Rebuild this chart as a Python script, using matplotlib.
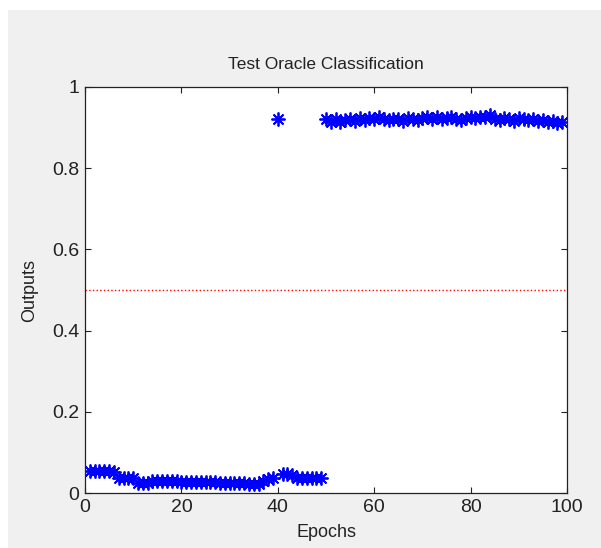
import matplotlib
matplotlib.use("Agg")
import matplotlib.pyplot as plt
from matplotlib.patches import Rectangle

plt.rcParams['font.family'] = ['Liberation Sans', 'DejaVu Sans']

# classifier outputs per epoch
epochs_low = list(range(1, 40)) + list(range(41, 50))
outputs_low = [
    0.053, 0.053, 0.053, 0.053, 0.053, 0.052,
    0.038, 0.038, 0.037, 0.037,
    0.025, 0.024, 0.025,
    0.029, 0.029, 0.029, 0.029, 0.029, 0.029,
    0.028, 0.028, 0.028, 0.028, 0.028, 0.028, 0.028, 0.028,
    0.025, 0.025, 0.024, 0.024, 0.025, 0.025,
    0.022, 0.022, 0.023,
    0.030, 0.034, 0.036,
    0.046, 0.047, 0.045,
    0.038, 0.037, 0.037,
    0.037, 0.037, 0.038,
]
epochs_high = [40] + list(range(50, 100))
outputs_high = [
    0.922,
    0.922, 0.915, 0.920, 0.913, 0.918, 0.921, 0.917, 0.923, 0.919, 0.924,
    0.920, 0.925, 0.921, 0.918, 0.922, 0.920, 0.917, 0.923, 0.921, 0.919,
    0.924, 0.926, 0.922, 0.925, 0.920, 0.923, 0.927, 0.921, 0.918, 0.924,
    0.926, 0.923, 0.925, 0.927, 0.930, 0.922, 0.919, 0.924, 0.921, 0.917,
    0.923, 0.920, 0.918, 0.922, 0.916, 0.919, 0.914, 0.917, 0.912, 0.915,
]
threshold = 0.5

x_ticks = [0, 20, 40, 60, 80, 100]
y_ticks = [0, 0.2, 0.4, 0.6, 0.8, 1]
y_labels = ['0', '0.2', '0.4', '0.6', '0.8', '1']

fig = plt.figure(figsize=(6.01, 5.48), dpi=100, facecolor='white')
# grey window area, leaving a thin white strip top and left
fig.patches.append(Rectangle((8 / 601, 0), 1, 1 - 10 / 548, transform=fig.transFigure,
                             facecolor='#f0f0f0', edgecolor='none', zorder=-10))

ax = fig.add_axes([85 / 601, 55 / 548, 482 / 601, 406 / 548])
ax.set_facecolor('white')

asterisk = (8, 2, 0)
ax.plot(epochs_low, outputs_low, linestyle='none', marker=asterisk, markersize=10,
        markeredgewidth=1.3, color='#0000ff')
ax.plot(epochs_high, outputs_high, linestyle='none', marker=asterisk, markersize=10,
        markeredgewidth=1.3, color='#0000ff')
ax.plot([0, 100], [threshold, threshold], linestyle=':', color='#ff0000', lw=1.0)

ax.set_xlim(0, 100)
ax.set_ylim(0, 1)
ax.set_xticks(x_ticks)
ax.set_yticks(y_ticks)
ax.set_yticklabels(y_labels)
ax.tick_params(direction='in', top=True, right=True, length=4, width=0.8,
               labelsize=14, pad=4, colors='#222222')
for lbl in ax.get_xticklabels() + ax.get_yticklabels():
    lbl.set_family(['Liberation Sans Narrow', 'Liberation Sans'])
for s in ax.spines.values():
    s.set_linewidth(0.9)
    s.set_color('#222222')

ax.set_title('Test Oracle Classification', fontsize=12.5, pad=13, color='#222222')
ax.set_xlabel('Epochs', fontsize=13, labelpad=6, color='#222222')
ax.set_ylabel('Outputs', fontsize=13, labelpad=10, color='#222222')

fig.savefig('out.png', dpi=100, facecolor=fig.get_facecolor())
